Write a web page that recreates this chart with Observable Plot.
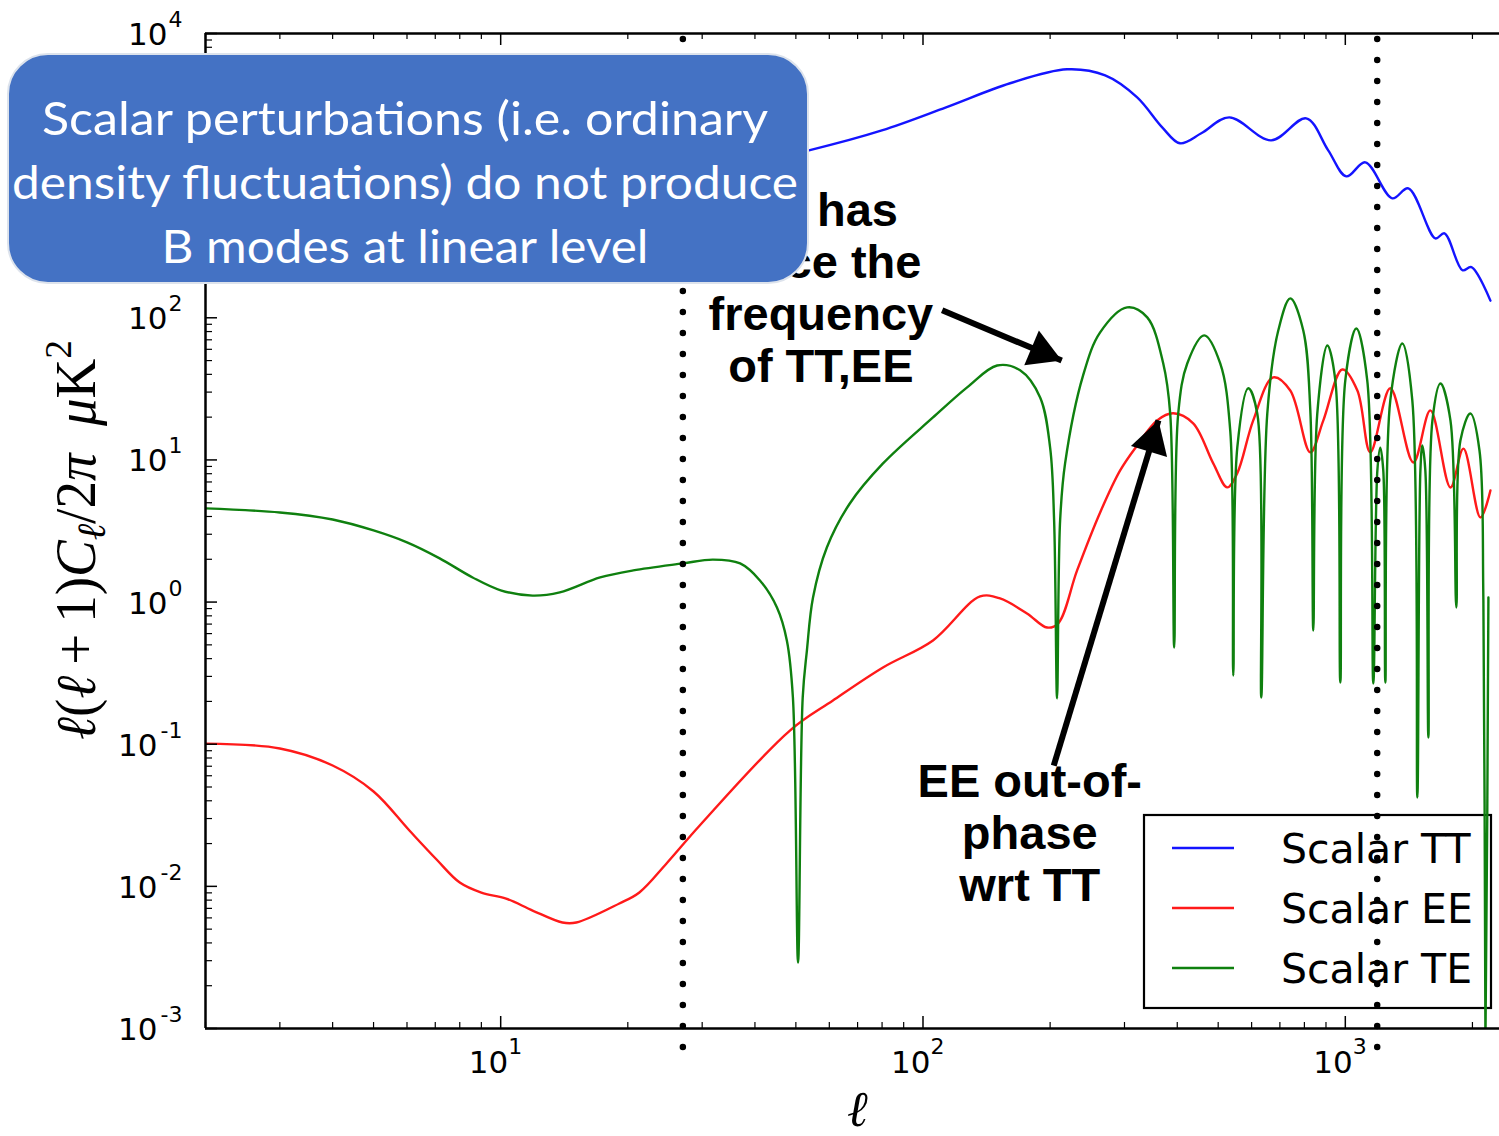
<!DOCTYPE html>
<html><head><meta charset="utf-8">
<script src="https://cdn.jsdelivr.net/npm/d3@7"></script>
<script src="https://cdn.jsdelivr.net/npm/@observablehq/plot@0.6"></script>
<style>
body{margin:0;background:#fff;}
#wrap{position:relative;width:1499px;height:1136px;overflow:hidden;background:#fff;}
#wrap svg{display:block;}
#note{position:absolute;left:0;top:0;pointer-events:none;}
</style></head><body><div id="wrap"></div>
<script>
// ---- data ----
const ttEll = [40,53.7,79.9,113.4,160.8,219.4,270,321.5,368.5,406,456,531,667.6,808,911,1005.6,1115,1292,1410,1634,1717,1894,1989,2206];
const ttVal = [1250,1507,2080,3024,4466,5598,5080,3557,2188,1689,1986,2572,1771,2531,1507,988,1241,692,814,362,393,216,227,132];

const eeEll = [2,3,4,5,6.08,7.05,8,9,10.3,11.9,14,15.1,19.1,21.3,24.7,29.6,48.4,61.2,80.4,105.6,136.5,152.2,176.3,196.7,208.9,231.7,262.7,293,321.5,358.4,391.3,436.3,486.7,525.3,554.6,605.3,675,740.8,826.3,887.2,983.8,1068,1146,1278,1449,1590,1774,1904,2089,2206];
const eeVal = [0.101,0.0933,0.0708,0.0465,0.0247,0.01545,0.01064,0.00904,0.0082,0.00676,0.00557,0.00557,0.00758,0.00906,0.01449,0.0268,0.1248,0.203,0.3466,0.537,1.095,1.06,0.831,0.662,0.706,1.669,4.27,8.44,12.65,18.97,21.3,18.1,9.46,6.41,8.04,18.97,38.1,30.8,11.3,18.97,43.3,30.8,11.3,31.9,9.6,22.3,6.4,12.0,3.94,6.1];

const teEll = [2,3,4,5,6,7.17,8.58,10,11.9,13.8,17.2,20.6,27.0,31.8,36.9,41.1,45.1,47.6,49.2,50.6,51.9,53.1,54.9,59.2,67.1,80.4,105.6,127.2,149.8,169.8,189.4,200,204.4,207.7,211.2,217,239.4,262.7,304.3,339.6,370.6,384.9,393.4,402.1,422.4,463.4,505.6,534,542.9,554.9,589.2,618.8,632.4,653.5,693.8,740.8,795.2,826.3,839.9,858.3,906.5,947,973.2,1000,1062,1127,1165,1191,1210,1230,1244,1278,1365,1441,1481,1506,1522,1547,1573,1608,1680,1774,1832,1873,1978,2078,2123,2147,2182];
const teVal = [4.56,4.27,3.81,3.19,2.63,2.03,1.49,1.21,1.11,1.17,1.49,1.67,1.87,1.99,1.87,1.42,0.916,0.537,0.213,0.00291,0.213,0.456,1.077,2.42,4.94,9.45,19.9,32.4,46.2,42.7,27.5,12.2,3.75,0.21,3.75,9.45,39.3,78.9,118.3,100.6,47.7,21.2,0.479,21.2,47.7,75.2,47.7,16.1,0.304,12.2,31.9,21.2,0.213,21.2,81.3,137,81.3,22.3,0.631,21.2,63.9,36.3,0.272,36.3,84.0,36.3,0.2675,8.44,12.2,8.44,0.272,26.2,66.0,26.2,0.0422,8.44,12.65,8.44,0.1115,18.97,34.5,18.97,0.916,13.7,21.2,11.7,1.03,0.00082,1.077];

const seriesNames = ["Scalar TT","Scalar EE","Scalar TE"];
const seriesColors = ["#1414ff","#ff1a1a","#0f800f"];

const vLines = [27, 1190];

const xTickVals = [10,100,1000];
const xTickExp = ["1","2","3"];
const yTickVals = [1e4,1e3,1e2,1e1,1,1e-1,1e-2,1e-3];
// labelled y ticks (10^3 lies under the slide box in the reference)
const yLabelVals = [1e4,1e2,1e1,1,1e-1,1e-2,1e-3];
const yLabelExp = ["4","2","1","0","-1","-2","-3"];

const noteLines = ["Scalar perturbations (i.e. ordinary","density fluctuations) do not produce","B modes at linear level"];

const annoTexts = [
  {ell:57.3, val:35.1, text:"TE has\ntwice the\nfrequency\nof TT,EE"},
  {ell:179, val:0.00794, text:"EE out-of-\nphase\nwrt TT"}
];
const annoArrows = [
  {ell1:111, val1:113, ell2:213, val2:50},
  {ell1:204, val1:0.0708, ell2:361, val2:19}
];

// ---- build tables ----
const tt = ttEll.map((e,i)=>({ell:e, val:ttVal[i]}));
const ee = eeEll.map((e,i)=>({ell:e, val:eeVal[i]}));
const te = teEll.map((e,i)=>({ell:e, val:teVal[i]}));
const xMinor = []; [1,10,100,1000].forEach(k=>{for(let m=2;m<=9;m++){const v=m*k; if(v>=2 && v<=2318) xMinor.push(v);}});
const yMinor = []; [1e-3,1e-2,1e-1,1,10,100,1000].forEach(k=>{for(let m=2;m<=9;m++) yMinor.push(m*k);});
const yLabels = yLabelVals.map((v,i)=>({v, e:yLabelExp[i]}));
const yPos = yLabels.filter(d=>!d.e.startsWith("-"));
const yNeg = yLabels.filter(d=>d.e.startsWith("-"));
const xTicks = xTickVals.map((v,i)=>({v, e:xTickExp[i]}));

const W=1499, H=1136, mL=205, mR=0, mT=33, mB=108;
const fw = W-mL-mR, fh = H-mT-mB;
const font = "DejaVu Sans, sans-serif";

// filled arrow-heads: triangle symbol of radius r whose tip sits 1.555 r from its centre
const headR = 14;
const headAngles = [22.8, -73.2]; // screen direction of each arrow, degrees clockwise from +x
const headMarks = annoArrows.map((a,i)=>{
  const th = headAngles[i]*Math.PI/180, k = 1.555*headR;
  return Plot.dot([a], {x:"ell2", y:"val2", symbol:"triangle", r:headR, fill:"black", stroke:"none",
    rotate: 90+headAngles[i], dx:-k*Math.cos(th), dy:-k*Math.sin(th)});
});

const plot = Plot.plot({
  width:W, height:H, marginLeft:mL, marginRight:mR, marginTop:mT, marginBottom:mB,
  style:{background:"transparent", overflow:"visible"},
  x:{type:"log", domain:[2,2318], axis:null},
  y:{type:"log", domain:[1e-3,1e4], axis:null},
  marks:[
    Plot.line(tt, {x:"ell", y:"val", stroke:seriesColors[0], strokeWidth:2.4, curve:"catmull-rom", clip:true}),
    Plot.line(ee, {x:"ell", y:"val", stroke:seriesColors[1], strokeWidth:2.4, curve:"catmull-rom", clip:true}),
    Plot.line(te, {x:"ell", y:"val", stroke:seriesColors[2], strokeWidth:2.4, curve:"catmull-rom", clip:true}),
    // frame
    Plot.ruleX([2], {x:d=>d, stroke:"black", strokeWidth:2.5}),
    Plot.ruleY([1e-3], {y:d=>d, stroke:"black", strokeWidth:2.5}),
    Plot.ruleY([1e4], {y:d=>d, stroke:"black", strokeWidth:2.5}),
    // ticks (inward)
    Plot.tickX(xTickVals, {x:d=>d, insetTop:fh-12, stroke:"black", strokeWidth:1.5}),
    Plot.tickX(xTickVals, {x:d=>d, insetBottom:fh-12, stroke:"black", strokeWidth:1.5}),
    Plot.tickX(xMinor, {x:d=>d, insetTop:fh-6, stroke:"black", strokeWidth:1.2}),
    Plot.tickX(xMinor, {x:d=>d, insetBottom:fh-6, stroke:"black", strokeWidth:1.2}),
    Plot.tickY(yTickVals, {y:d=>d, insetRight:fw-12, stroke:"black", strokeWidth:1.5}),
    Plot.tickY(yMinor, {y:d=>d, insetRight:fw-7, stroke:"black", strokeWidth:1.2}),
    // tick labels
    Plot.text(yPos, {y:"v", frameAnchor:"left", text:()=>"10", textAnchor:"end", dx:-38, lineAnchor:"bottom", dy:11.5, fontSize:31, fontFamily:font, fill:"black"}),
    Plot.text(yNeg, {y:"v", frameAnchor:"left", text:()=>"10", textAnchor:"end", dx:-48, lineAnchor:"bottom", dy:11.5, fontSize:31, fontFamily:font, fill:"black"}),
    Plot.text(yLabels, {y:"v", frameAnchor:"left", text:"e", textAnchor:"end", dx:-23, lineAnchor:"bottom", dy:-6.5, fontSize:22, fontFamily:font, fill:"black"}),
    Plot.text(xTicks, {x:"v", frameAnchor:"bottom", text:()=>"10", textAnchor:"end", dx:7.5, lineAnchor:"bottom", dy:44, fontSize:31, fontFamily:font, fill:"black"}),
    Plot.text(xTicks, {x:"v", frameAnchor:"bottom", text:"e", textAnchor:"start", dx:7.5, lineAnchor:"bottom", dy:25, fontSize:22, fontFamily:font, fill:"black"}),
    // x label
    Plot.text(["ℓ"], {frameAnchor:"bottom", text:d=>d, dx:5, dy:97, lineAnchor:"bottom", fontSize:50, fontStyle:"italic", fontFamily:"Liberation Serif, DejaVu Serif, serif", fill:"black"}),
    // annotations
    Plot.link(annoArrows, {x1:"ell1", y1:"val1", x2:"ell2", y2:"val2", stroke:"black", strokeWidth:6}),
    ...headMarks,
    Plot.text(annoTexts, {x:"ell", y:"val", text:"text", textAnchor:"middle", lineAnchor:"bottom", lineHeight:1.106, fontSize:47, fontWeight:"bold", fontFamily:"Liberation Sans, Arial, sans-serif", fill:"black"}),
    // dotted vertical lines
    Plot.ruleX(vLines, {x:d=>d, stroke:"black", strokeWidth:6.5, strokeDasharray:"0,21", strokeLinecap:"round", insetTop:6, insetBottom:-26})
  ]
});
document.getElementById("wrap").appendChild(plot);

const svg = d3.select(plot);
// legend (drawn beneath the curves)
const lg = svg.insert("g", ":first-child");
lg.append("rect").attr("x",1144).attr("y",815).attr("width",347).attr("height",193).attr("fill","white").attr("stroke","black").attr("stroke-width",2.2);
seriesNames.forEach((name,i)=>{
  const yy = 848 + i*60;
  lg.append("line").attr("x1",1172).attr("x2",1234).attr("y1",yy).attr("y2",yy).attr("stroke",seriesColors[i]).attr("stroke-width",2.4);
  lg.append("text").attr("x",1281).attr("y",yy+15).attr("text-anchor","start").attr("font-family",font).attr("font-size",41).attr("fill","black").text(name);
});
// y label with sub/superscripts
const yl = svg.append("text").attr("transform","translate(95,540) rotate(-90)").attr("text-anchor","middle")
  .attr("font-family","Liberation Serif, DejaVu Serif, serif").attr("font-size",56).attr("fill","black")
  .attr("textLength",400).attr("lengthAdjust","spacingAndGlyphs");
[["ℓ","italic",56,0],["(","normal",56,0],["ℓ","italic",56,0],["\u2009+\u20091)","normal",56,0],["C","italic",56,0],["ℓ","italic",40,10],["/2","normal",56,-10],["π","italic",56,0],["\u2002μ","italic",56,0],["K","normal",56,0],["2","normal",38,-24]]
  .forEach(([t,st,fs,dy])=>{ yl.append("tspan").attr("font-style",st).attr("font-size",fs).attr("dy",dy).text(t); });

// slide overlay box
const note = d3.select("#wrap").append("svg").attr("id","note").attr("width",W).attr("height",H);
note.append("rect").attr("x",8).attr("y",54).attr("width",800).attr("height",229).attr("rx",40)
  .attr("fill","#4472C4").attr("stroke","#dde3ec").attr("stroke-width",2);
const noteBase = [135,199,263], noteLen = [726,786,487];
noteLines.forEach((t,i)=>{
  note.append("text").attr("x",405).attr("y",noteBase[i]).attr("text-anchor","middle")
    .attr("font-family","Lato, 'Open Sans', sans-serif").attr("font-size",46).attr("fill","white")
    .attr("textLength",noteLen[i]).attr("lengthAdjust","spacingAndGlyphs").text(t);
});
</script></body></html>
